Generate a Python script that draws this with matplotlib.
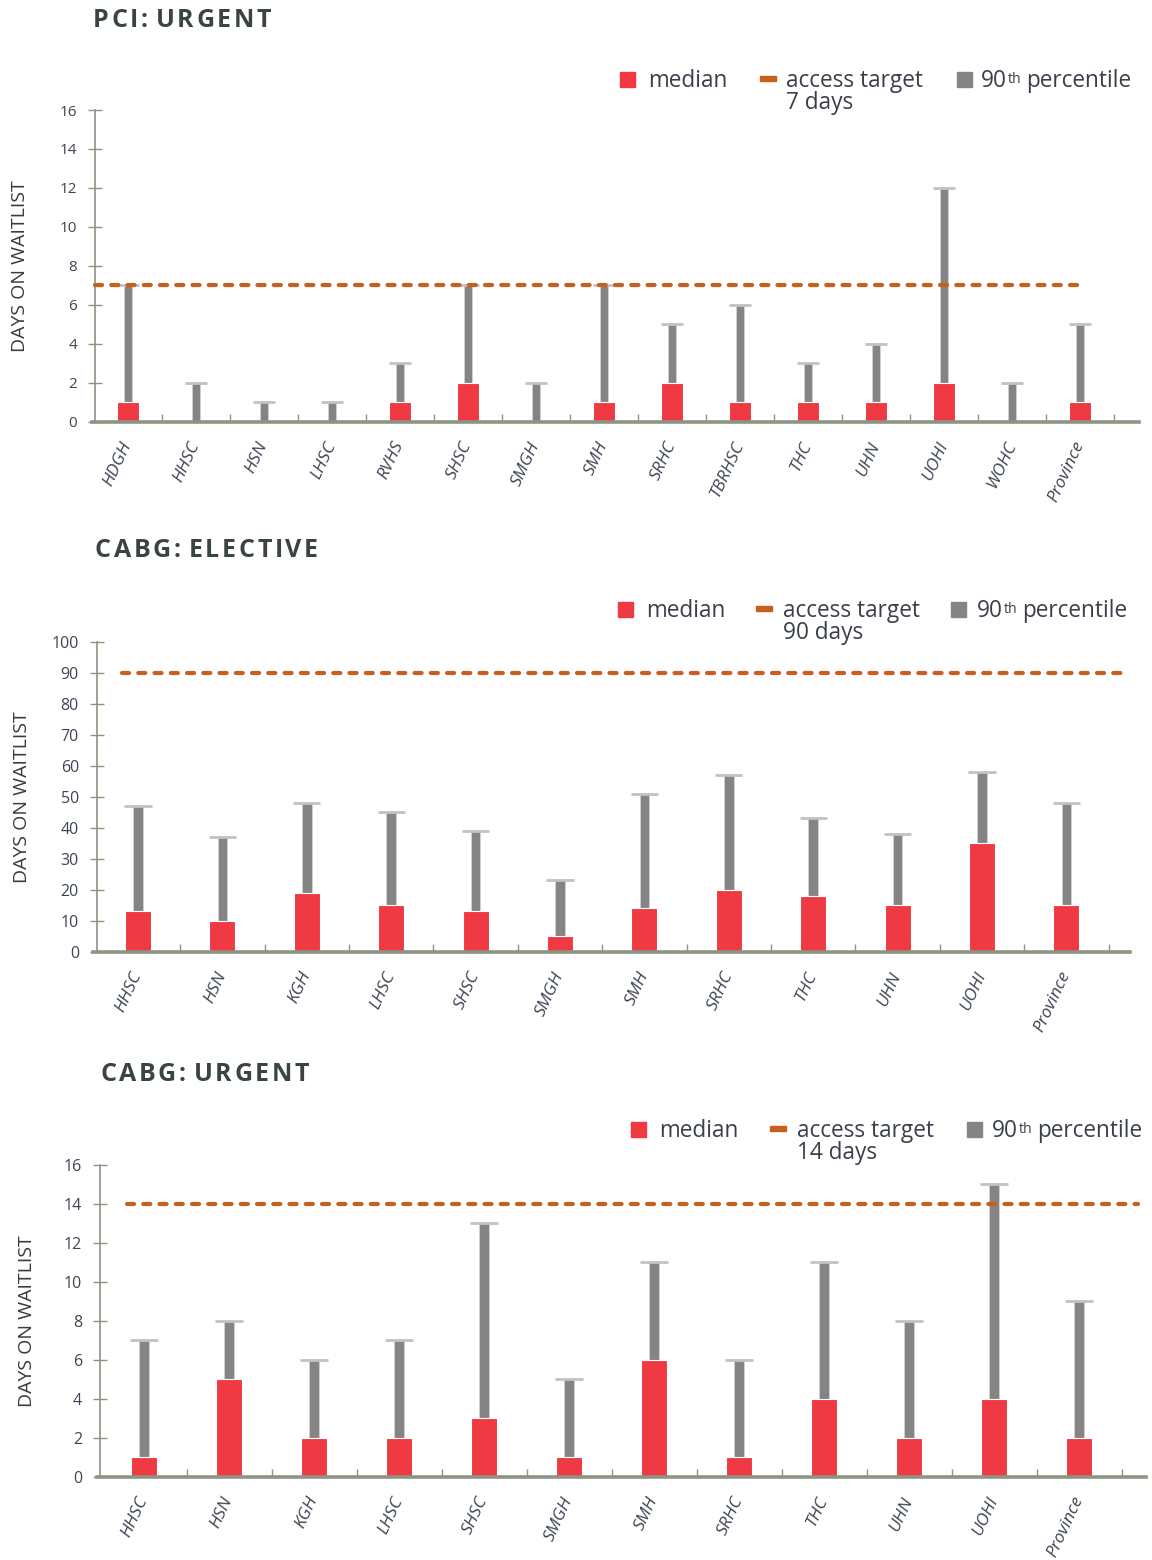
import matplotlib
matplotlib.use("Agg")
import matplotlib.pyplot as plt
from matplotlib.patches import Rectangle
import numpy as np

# ---- data -------------------------------------------------------------
pci_sites = ["HDGH", "HHSC", "HSN", "LHSC", "RVHS", "SHSC", "SMGH", "SMH",
             "SRHC", "TBRHSC", "THC", "UHN", "UOHI", "WOHC", "Province"]
pci_median = [1, 0, 0, 0, 1, 2, 0, 1, 2, 1, 1, 1, 2, 0, 1]
pci_p90 = [7, 2, 1, 1, 3, 7, 2, 7, 5, 6, 3, 4, 12, 2, 5]
pci_target = 7

cabg_el_sites = ["HHSC", "HSN", "KGH", "LHSC", "SHSC", "SMGH", "SMH",
                 "SRHC", "THC", "UHN", "UOHI", "Province"]
cabg_el_median = [13, 10, 19, 15, 13, 5, 14, 20, 18, 15, 35, 15]
cabg_el_p90 = [47, 37, 48, 45, 39, 23, 51, 57, 43, 38, 58, 48]
cabg_el_target = 90

cabg_ur_sites = ["HHSC", "HSN", "KGH", "LHSC", "SHSC", "SMGH", "SMH",
                 "SRHC", "THC", "UHN", "UOHI", "Province"]
cabg_ur_median = [1, 5, 2, 2, 3, 1, 6, 1, 4, 2, 4, 2]
cabg_ur_p90 = [7, 8, 6, 7, 13, 5, 11, 6, 11, 8, 15, 9]
cabg_ur_target = 14

# ---- style ------------------------------------------------------------
W, H = 1152, 1560
plt.rcParams["font.family"] = ["Open Sans", "DejaVu Sans"]
RED = "#f03a43"
GRAY = "#848484"
CAP = "#c2c2c2"
ORANGE = "#c8601a"
AXC = "#8c9482"
TXT = "#3d4452"
LEG = "#3a3f4a"
TITLE_C = "#3a4540"

fig = plt.figure(figsize=(W / 100, H / 100), dpi=100)
renderer = fig.canvas.get_renderer()


def fx(x):
    return x / W


def fy(y):
    return 1 - y / H


def text_width(t):
    return t.get_window_extent(renderer=renderer).width


def spaced_title(x, y, s, size, track):
    cur = x
    for ch in s:
        if ch == " ":
            cur += size * 0.3
            continue
        t = fig.text(fx(cur), fy(y), ch, fontsize=size, fontweight="bold",
                     color=TITLE_C, va="baseline", ha="left")
        cur += text_width(t) + track


def text_run(x, y, pieces):
    cur = x
    for s, size, dy, gap in pieces:
        t = fig.text(fx(cur), fy(y - dy), s, fontsize=size, color=LEG,
                     va="baseline", ha="left")
        cur += text_width(t) + gap


def legend(yb, x_sq1, x_med, x_dash, x_acc, days, x_sq2, x_90, fs=16.3):
    sq = 15
    fig.patches.append(Rectangle((fx(x_sq1), fy(yb)), sq / W, sq / H,
                                 transform=fig.transFigure, color=RED))
    fig.text(fx(x_med), fy(yb), "median", fontsize=fs, color=LEG,
             va="baseline")
    fig.patches.append(Rectangle((fx(x_dash), fy(yb - 6)), 16 / W, 5 / H,
                                 transform=fig.transFigure, color=ORANGE))
    fig.text(fx(x_acc), fy(yb), "access target", fontsize=fs,
             color=LEG, va="baseline")
    fig.text(fx(x_acc), fy(yb + 22), days, fontsize=fs, color=LEG,
             va="baseline")
    fig.patches.append(Rectangle((fx(x_sq2), fy(yb)), sq / W, sq / H,
                                 transform=fig.transFigure, color=GRAY))
    text_run(x_90, yb, [("90", fs, 0, 1), ("th", fs * 0.62, 4, 5),
                        ("percentile", fs, 0, 0)])


def panel(sites, med, p90, target, yticks, ymax, L, R, T, B, yaxis_px,
          c0, step, line_from, line_to, tick_fs, ylab_x):
    ax = fig.add_axes([fx(L), fy(B), (R - L) / W, (B - T) / H])
    x = np.arange(len(sites))
    med = np.asarray(med)
    p90 = np.asarray(p90)
    ax.set_xlim((L - c0) / step, (R - c0) / step)
    ax.set_ylim(0, ymax)
    ax.patch.set_alpha(0)

    bw, ww, cw = 0.31, 0.115, 0.32
    ax.bar(x, p90 - med, bottom=med, width=ww, color=GRAY,
           edgecolor="#d6d6d6", linewidth=0.5, zorder=2)
    ax.hlines(p90, x - cw / 2, x + cw / 2, color=CAP, linewidth=2.0,
              zorder=3)
    ax.bar(x, med, width=bw, color=RED, edgecolor="white", linewidth=0.8,
           zorder=4)
    ax.plot([(line_from - c0) / step, (line_to - c0) / step],
            [target, target], color=ORANGE, linewidth=3,
            dashes=(1.7, 2.2), dash_capstyle="round", zorder=5)

    for s in ("top", "right"):
        ax.spines[s].set_visible(False)
    ax.spines["left"].set_position(("data", (yaxis_px - c0) / step))
    ax.spines["left"].set_color(AXC)
    ax.spines["left"].set_linewidth(1.2)
    ax.spines["bottom"].set_color(AXC)
    ax.spines["bottom"].set_linewidth(2.6)
    ax.spines["bottom"].set_zorder(6)

    ax.set_yticks(yticks)
    ax.set_yticklabels([str(v) for v in yticks])
    ax.tick_params(axis="y", direction="inout", length=10, width=1.0,
                   color=AXC, labelsize=tick_fs, labelcolor=TXT, pad=8)
    ax.set_xticks(x)
    ax.set_xticklabels(sites, rotation=65, ha="right", va="center",
                       rotation_mode="anchor", fontstyle="italic",
                       fontsize=12.5, color=TXT)
    ax.tick_params(axis="x", which="major", length=0, pad=15)
    ax.set_xticks(x + 0.5, minor=True)
    ax.tick_params(axis="x", which="minor", direction="in", length=6,
                   width=1.0, color=AXC)

    fig.text(fx(ylab_x), fy((T + B) / 2), "DAYS ON WAITLIST", rotation=90,
             fontsize=14, color="#3a3a3a", ha="center", va="center")
    return ax


# ---- PCI: urgent --------------------------------------------------------
spaced_title(93, 27, "PCI: URGENT", 18, 2.6)
legend(87, 620, 648, 760, 786, "7 days", 957, 981)
panel(pci_sites, pci_median, pci_p90, pci_target, list(range(0, 17, 2)), 16,
      L=92, R=1139, T=110, B=421.5, yaxis_px=95, c0=128, step=68,
      line_from=95, line_to=1082, tick_fs=11, ylab_x=20)

# ---- CABG: elective -----------------------------------------------------
spaced_title(95, 557, "CABG: ELECTIVE", 18, 2.6)
legend(617, 618, 646, 756, 783, "90 days", 951, 977)
panel(cabg_el_sites, cabg_el_median, cabg_el_p90, cabg_el_target,
      list(range(0, 101, 10)), 100,
      L=93, R=1130, T=642, B=951.5, yaxis_px=97, c0=138, step=84.4,
      line_from=122, line_to=1125, tick_fs=11.5, ylab_x=22)

# ---- CABG: urgent -------------------------------------------------------
spaced_title(100, 1081, "CABG: URGENT", 18, 2.6)
legend(1137, 631, 659, 770, 797, "14 days", 967, 992)
panel(cabg_ur_sites, cabg_ur_median, cabg_ur_p90, cabg_ur_target,
      list(range(0, 17, 2)), 16,
      L=97, R=1146, T=1165, B=1476.7, yaxis_px=100, c0=144, step=85,
      line_from=127, line_to=1138, tick_fs=11.5, ylab_x=27)

fig.savefig("out.png", dpi=100)
